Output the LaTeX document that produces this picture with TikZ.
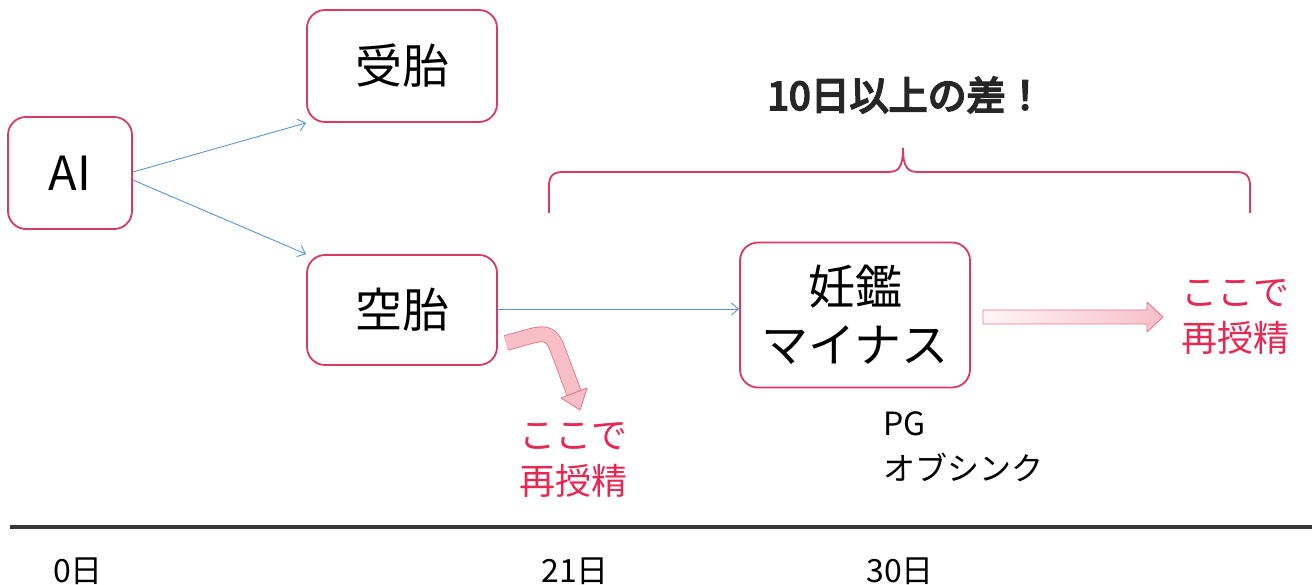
\documentclass[tikz,border=0pt]{standalone}
\usepackage{fontspec}
\setmainfont{Noto Sans CJK JP}
\newfontfamily\cjkbold[FakeBold=5]{Noto Sans CJK JP}
\usetikzlibrary{arrows.meta}
\definecolor{boxpink}{RGB}{218,58,98}
\definecolor{redtext}{RGB}{232,40,80}
\definecolor{bluearrow}{RGB}{90,150,215}
\definecolor{pinkfill}{RGB}{248,190,200}
\definecolor{pinkborder}{RGB}{232,120,145}
\definecolor{lineGray}{RGB}{55,55,55}
\tikzset{
  stagebox/.style={draw=boxpink, line width=1.8pt, rounded corners=18pt, fill=white,
    font=\fontsize{47}{52}\selectfont, align=center, inner sep=0pt},
  flowarrow/.style={draw=bluearrow, line width=0.9pt, -{Straight Barb[length=7pt,width=12pt]}},
  redlabel/.style={text=redtext, font=\fontsize{36}{46}\selectfont, align=left, anchor=west, inner sep=0pt},
  daylabel/.style={font=\fontsize{32}{34}\selectfont, inner sep=0pt},
  bracket/.style={draw=boxpink, line width=1.8pt},
}
\begin{document}
\begin{tikzpicture}[x=1pt,y=-1pt]
\useasboundingbox (0,0) rectangle (1312,585);
\fill[white] (0,0) rectangle (1312,585);

% boxes
\node[stagebox, minimum width=124pt, minimum height=112pt] (ai) at (70,173) {AI};
\node[stagebox, minimum width=190pt, minimum height=112pt] (jutai) at (402,66) {受胎};
\node[stagebox, minimum width=190pt, minimum height=110pt] (kutai) at (402,310) {空胎};
\node[stagebox, minimum width=230pt, minimum height=145pt, font=\fontsize{47}{58}\selectfont] (ninkan) at (855,315) {妊鑑\\マイナス};

% blue connectors
\draw[flowarrow] (ai.east |- 0,172) -- (jutai.south west);
\draw[flowarrow] (ai.east |- 0,180) -- (kutai.north west);
\draw[flowarrow] (kutai.east |- 0,309) -- (ninkan.west |- 0,309);

% bracket
\draw[bracket] (549,213) -- (549,186) .. controls (549,176) and (553,172) .. (563,172)
  -- (888,172) .. controls (898,172) and (903,168) .. (903,148)
  .. controls (903,168) and (908,172) .. (918,172)
  -- (1236,172) .. controls (1246,172) and (1250,176) .. (1250,186) -- (1250,213);
\node[font=\cjkbold\fontsize{39}{42}\selectfont, text=black!85] (diff) at (906,95) {10日以上の差！};

% bent pink arrow
\draw[draw=pinkborder, line width=0.9pt, double=pinkfill, double distance=14pt]
  (506,343) -- (531,336) .. controls (546,332) and (551,335) .. (556,345) -- (574,393);
\filldraw[draw=pinkborder, fill=pinkfill, line width=0.9pt, line join=round]
  (587,388) -- (580,410) -- (561,398) -- cycle;
\node[redlabel] (re1) at (519,460) {ここで\\再授精};

% straight pink arrow
\shade[left color=white!85!pinkfill, right color=pinkfill]
  (983,310) -- (1147,310) -- (1147,302) -- (1163,317) -- (1147,332) -- (1147,324) -- (983,324) -- cycle;
\draw[draw=pinkborder, line width=0.9pt, line join=round]
  (983,310) -- (1147,310) -- (1147,302) -- (1163,317) -- (1147,332) -- (1147,324) -- (983,324) -- cycle;
\node[redlabel] (re2) at (1181,317) {ここで\\再授精};

% PG text
\node[font=\fontsize{32}{45}\selectfont, align=left, anchor=west, inner sep=0pt] (pg) at (883,447) {PG\\オブシンク};

% timeline
\coordinate (tl0) at (10,527);
\coordinate (tl1) at (1312,527);
\draw[lineGray, line width=4pt] (tl0) -- (tl1);
\node[daylabel] (d0) at (78,571) {0日};
\node[daylabel] (d21) at (575,571) {21日};
\node[daylabel] (d30) at (900,571) {30日};
\end{tikzpicture}
\end{document}
